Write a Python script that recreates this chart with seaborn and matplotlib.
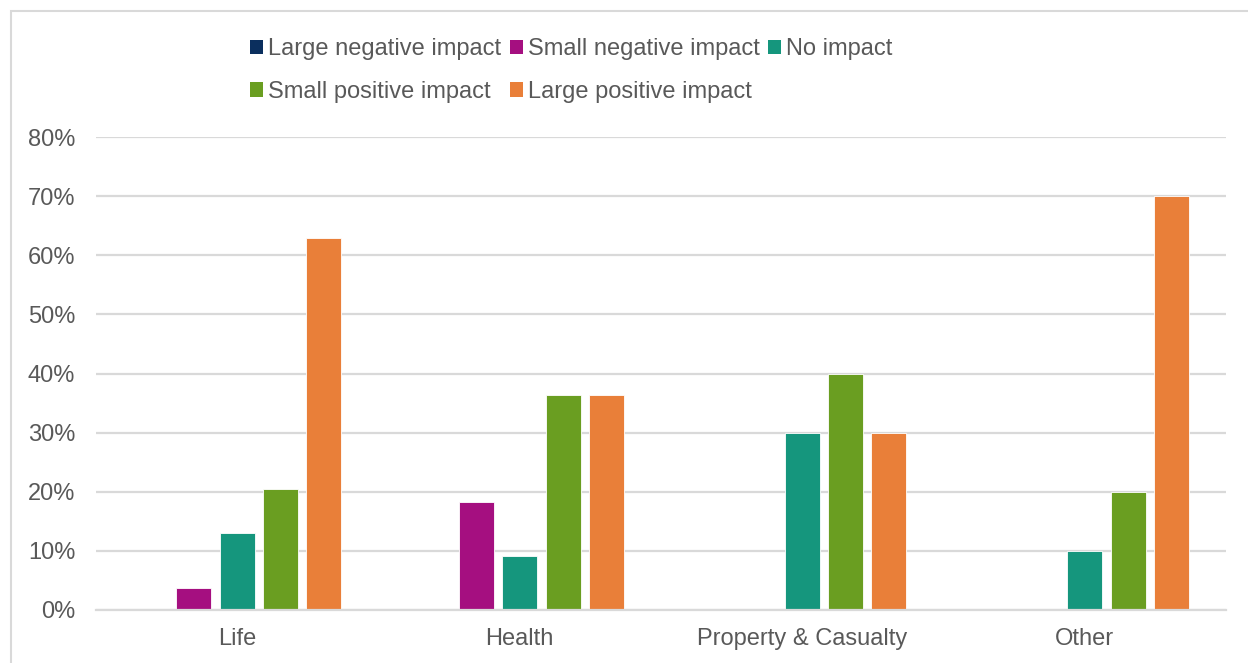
import pandas as pd
import numpy as np
import matplotlib.pyplot as plt
import seaborn as sns
from matplotlib.patches import Rectangle, Patch

categories = ['Life', 'Health', 'Property & Casualty', 'Other']
impacts = ['Large negative impact', 'Small negative impact', 'No impact',
           'Small positive impact', 'Large positive impact']

large_negative = [0.0, 0.0, 0.0, 0.0]
small_negative = [3.7, 18.2, 0.0, 0.0]
no_impact = [13.0, 9.1, 30.0, 10.0]
small_positive = [20.4, 36.4, 40.0, 20.0]
large_positive = [63.0, 36.4, 30.0, 70.0]

colors = ['#0B2F5E', '#A50F80', '#15967D', '#6A9E21', '#E97F39']
yticks = [0, 10, 20, 30, 40, 50, 60, 70, 80]

series = [large_negative, small_negative, no_impact, small_positive, large_positive]
df = pd.DataFrame({
    'Category': np.repeat([categories], len(impacts), axis=0).ravel(),
    'Impact': np.repeat(impacts, len(categories)),
    'Value': np.concatenate(series),
})

sns.set_theme(style='white')
plt.rcParams['font.family'] = ['Liberation Sans', 'DejaVu Sans']
text_color = '#595959'
grid_color = '#D9D9D9'
tick_fs = 17
legend_fs = 17

fig = plt.figure(figsize=(12.48, 6.63), dpi=100)
ax = fig.add_axes([96 / 1248, 1 - 610 / 663, 1130 / 1248, 473 / 663])

sns.barplot(data=df, x='Category', y='Value', hue='Impact', order=categories,
            hue_order=impacts, palette=colors, saturation=1, width=0.766, gap=0.19,
            edgecolor='white', linewidth=0.6, ax=ax, legend=False)

ax.set_xlim(-0.5, 3.5)
ax.set_ylim(0, 80)
ax.set_yticks(yticks)
ax.set_yticklabels([f'{t}%' for t in yticks])
ax.set_xlabel('')
ax.set_ylabel('')
ax.grid(axis='y', color=grid_color, linewidth=1.6)
ax.set_axisbelow(True)
for side in ['top', 'right', 'left']:
    ax.spines[side].set_visible(False)
ax.spines['bottom'].set_color(grid_color)
ax.spines['bottom'].set_linewidth(1.6)
ax.tick_params(axis='both', length=0, labelsize=tick_fs, colors=text_color)
ax.tick_params(axis='y', pad=15)
ax.tick_params(axis='x', pad=13)

# legend laid out row-wise like the original (3 + 2)
handles = [Patch(facecolor=c, edgecolor='none') for c in colors]
order = [0, 3, 1, 4, 2]
fig.legend([handles[i] for i in order], [impacts[i] for i in order],
           ncol=3, loc='upper left', bbox_to_anchor=(250 / 1248, 1 - 38 / 663),
           frameon=False, fontsize=legend_fs, labelcolor=text_color,
           handlelength=0.55, handleheight=0.55, handletextpad=0.2,
           columnspacing=0.38, labelspacing=0.88, borderpad=0, borderaxespad=0)

# outer chart border (cropped at right and bottom)
fig.patches.append(Rectangle((10.5 / 1248, -0.05), 1.1, 1 - 11 / 663 + 0.05,
                             transform=fig.transFigure, fill=False,
                             edgecolor=grid_color, linewidth=1.5))

fig.savefig('out.png', dpi=100)
